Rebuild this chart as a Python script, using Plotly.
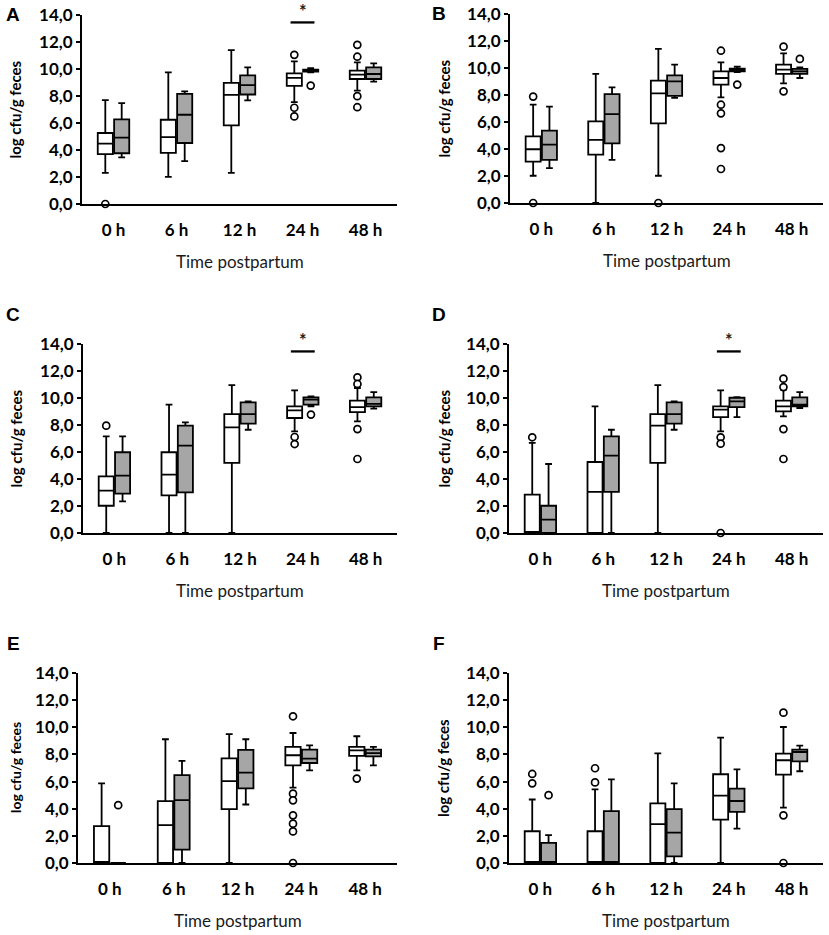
import plotly.graph_objects as go

W, H = 829, 935
GRAY = "#a6a6a6"
FONT = "Lato"

times = ["0 h", "6 h", "12 h", "24 h", "48 h"]

# box statistics per time point: (lower whisker, Q1, median, Q3, upper whisker)
a_white = [(2.31, 3.69, 4.47, 5.26, 7.70), (2.01, 3.78, 4.96, 6.24, 9.75), (2.31, 5.82, 8.08, 8.97, 11.40),
           (7.54, 8.75, 9.34, 9.68, 10.57), (8.40, 9.26, 9.58, 9.88, 10.49)]
a_gray = [(3.46, 3.76, 4.91, 6.27, 7.47), (3.17, 4.52, 6.61, 8.16, 8.35), (7.67, 8.11, 8.80, 9.53, 10.12),
          (9.75, 9.80, 9.88, 9.95, 10.07), (9.07, 9.26, 9.63, 10.12, 10.42)]
a_white_out = [[0.0], [], [], [11.05, 7.13, 6.49], [11.79, 10.91, 7.99, 7.17]]
a_gray_out = [[], [], [], [8.77], []]

b_white = [(2.02, 3.06, 3.98, 4.94, 7.28), (0.0, 3.58, 4.67, 6.05, 9.56), (2.02, 5.90, 8.12, 9.06, 11.41),
           (7.83, 8.77, 9.26, 9.75, 10.42), (8.86, 9.56, 9.88, 10.25, 11.09)]
b_gray = [(2.59, 3.19, 4.32, 5.36, 7.14), (3.19, 4.42, 6.59, 8.07, 8.57), (7.78, 7.93, 9.01, 9.46, 10.25),
          (9.70, 9.75, 9.88, 9.95, 10.10), (9.26, 9.56, 9.75, 9.93, 10.05)]
b_white_out = [[7.88, 0.0], [], [0.0], [11.28, 7.28, 6.64, 4.07, 2.52], [11.58, 8.27]]
b_gray_out = [[], [], [], [8.77], [10.67]]

c_white = [(0.0, 2.02, 3.14, 4.20, 7.16), (0.0, 2.79, 4.32, 5.98, 9.51), (0.0, 5.19, 7.83, 8.81, 10.96),
           (7.53, 8.52, 9.09, 9.38, 10.57), (8.27, 8.96, 9.33, 9.80, 10.74)]
c_gray = [(2.35, 2.91, 4.25, 5.98, 7.16), (0.0, 3.01, 6.47, 7.95, 8.20), (7.65, 8.10, 8.81, 9.68, 9.75),
          (9.38, 9.51, 9.88, 10.05, 10.12), (9.21, 9.38, 9.56, 10.05, 10.44)]
c_white_out = [[7.95], [], [], [7.11, 6.59], [11.53, 11.04, 7.70, 5.48]]
c_gray_out = [[], [], [], [8.77], []]

d_white = [(0.0, 0.0, 0.0, 2.84, 6.67), (0.0, 0.0, 3.04, 5.26, 9.38), (0.0, 5.19, 7.95, 8.81, 10.96),
           (7.53, 8.59, 9.14, 9.38, 10.57), (8.64, 9.01, 9.38, 9.80, 10.62)]
d_gray = [(0.0, 0.0, 0.99, 2.02, 5.11), (0.0, 3.04, 5.73, 7.16, 7.65), (7.65, 8.10, 8.81, 9.68, 9.75),
          (8.59, 9.33, 9.75, 10.02, 10.07), (9.26, 9.38, 9.51, 10.05, 10.44)]
d_white_out = [[7.09], [], [], [7.09, 6.62, 0.0], [11.43, 10.81, 7.70, 5.48]]
d_gray_out = [[], [], [], [], []]

e_white = [(0.0, 0.0, 0.0, 2.71, 5.87), (0.0, 0.0, 2.79, 4.56, 9.12), (0.0, 3.97, 6.04, 7.71, 9.49),
           (5.55, 7.20, 7.94, 8.55, 9.58), (6.83, 7.89, 8.30, 8.55, 9.34)]
e_gray = [(0.0, 0.0, 0.0, 0.0, 0.0), (0.0, 0.99, 4.63, 6.48, 7.52), (4.31, 5.50, 6.66, 8.33, 9.12),
          (6.83, 7.37, 7.69, 8.35, 8.67), (7.20, 7.86, 8.10, 8.35, 8.55)]
e_white_out = [[], [], [], [10.81, 5.11, 4.62, 3.51, 2.90, 2.33, 0.0], [6.22]]
e_gray_out = [[4.26], [], [], [], []]

f_white = [(0.0, 0.0, 0.0, 2.34, 4.68), (0.0, 0.0, 0.0, 2.34, 5.42), (0.0, 0.0, 2.86, 4.39, 8.08),
           (0.0, 3.19, 4.96, 6.54, 9.24), (4.08, 6.51, 7.57, 8.06, 10.02)]
f_gray = [(0.0, 0.0, 0.0, 1.48, 2.05), (0.0, 0.0, 0.0, 3.82, 6.16), (0.0, 0.49, 2.24, 3.97, 5.87),
          (2.53, 3.76, 4.57, 5.48, 6.90), (6.76, 7.49, 8.18, 8.35, 8.65)]
f_white_out = [[6.56, 5.87], [6.98, 5.94], [], [], [11.08, 3.51, 0.0]]
f_gray_out = [[5.00], [], [], [], []]

# time points marked as significant (*)
a_sig = ["24 h"]
c_sig = ["24 h"]
d_sig = ["24 h"]

panels = {
    "A": (a_white, a_gray, a_white_out, a_gray_out, a_sig),
    "B": (b_white, b_gray, b_white_out, b_gray_out, []),
    "C": (c_white, c_gray, c_white_out, c_gray_out, c_sig),
    "D": (d_white, d_gray, d_white_out, d_gray_out, d_sig),
    "E": (e_white, e_gray, e_white_out, e_gray_out, []),
    "F": (f_white, f_gray, f_white_out, f_gray_out, []),
}

# plot areas in pixels: left, right, top, bottom
frames = {
    "A": (82, 397, 15, 204),
    "B": (510, 823, 14, 203),
    "C": (83, 397, 344, 533),
    "D": (509, 823, 344, 533),
    "E": (78, 397, 673, 863),
    "F": (509, 823, 673, 863),
}

fig = go.Figure()
annotations = []
shapes = []
layout_axes = {}

for n, (letter, (white, gray, wout, gout, sig)) in enumerate(panels.items(), start=1):
    xa = "x" if n == 1 else f"x{n}"
    ya = "y" if n == 1 else f"y{n}"
    left, right, top, bottom = frames[letter]

    # boxes and outliers for both groups
    for stats, outs, off, fill in ((white, wout, -0.13, "white"), (gray, gout, 0.13, GRAY)):
        lo, q1, med, q3, hi = zip(*stats)
        fig.add_trace(go.Box(
            x=[i + off for i in range(len(times))],
            lowerfence=list(lo), q1=list(q1), median=list(med), q3=list(q3), upperfence=list(hi),
            orientation="v", width=0.24, whiskerwidth=0.45, boxpoints=False,
            fillcolor=fill, line=dict(color="black", width=1.8),
            xaxis=xa, yaxis=ya, showlegend=False, hoverinfo="skip",
        ))
        ox, oy = [], []
        for i, vals in enumerate(outs):
            ox += [i + off] * len(vals)
            oy += vals
        fig.add_trace(go.Scatter(
            x=ox, y=oy, mode="markers", cliponaxis=False,
            marker=dict(symbol="circle", size=7, color="white", line=dict(color="black", width=1.7)),
            xaxis=xa, yaxis=ya, showlegend=False, hoverinfo="skip",
        ))

    # significance bar and star
    for t in sig:
        i = times.index(t)
        shapes.append(dict(type="line", xref=xa, yref=ya, x0=i - 0.19, x1=i + 0.19, y0=13.45, y1=13.45,
                           line=dict(color="black", width=2.3)))
        annotations.append(dict(xref=xa, yref=ya, x=i, y=13.5, yshift=-2, text="<b>*</b>", showarrow=False,
                                yanchor="bottom", font=dict(family=FONT, size=18, color="#222222")))

    layout_axes[f"xaxis{'' if n == 1 else n}"] = dict(
        domain=[left / W, right / W], anchor=ya, range=[-0.5, 4.5], automargin=False,
        tickvals=list(range(len(times))), ticktext=times, ticks="", ticklabelstandoff=10,
        showline=True, linecolor="black", linewidth=2, showgrid=False, zeroline=False,
        tickfont=dict(family=FONT, size=17, color="black", weight="bold"),
    )
    layout_axes[f"yaxis{'' if n == 1 else n}"] = dict(
        domain=[1 - bottom / H, 1 - top / H], anchor=xa, range=[0, 14], dtick=2, tickformat=".1f",
        automargin=False, ticks="outside", ticklen=4, tickwidth=1.5, tickcolor="black",
        showline=True, linecolor="black", linewidth=2, showgrid=False, zeroline=False,
        tickfont=dict(family=FONT, size=17, color="black", weight="bold"),
    )

    # panel letter and axis titles
    lx = 13 if left < 300 else 439
    ly = top - 1 if letter in "AB" else top - 30
    annotations.append(dict(xref="paper", yref="paper", x=lx / W, y=1 - ly / H,
                            text=f"<b>{letter}</b>", showarrow=False, xanchor="center", yanchor="middle",
                            font=dict(family="Liberation Sans", size=19, color="black")))
    tx = 15 if left < 300 else 443
    annotations.append(dict(xref="paper", yref="paper", x=tx / W, y=1 - (top + bottom) / 2 / H,
                            text="<b>log cfu/g feces</b>", textangle=-90, showarrow=False,
                            xanchor="center", yanchor="middle",
                            font=dict(family=FONT, size=14 if letter == "E" else 15, color="black")))
    annotations.append(dict(xref="paper", yref="paper", x=(left + right) / 2 / W, y=1 - (bottom + 57) / H,
                            text="Time postpartum", showarrow=False, xanchor="center", yanchor="middle",
                            font=dict(family=FONT, size=17, color="#1a1a1a")))

fig.update_layout(
    width=W, height=H,
    margin=dict(l=0, r=0, t=0, b=0, autoexpand=False),
    paper_bgcolor="white", plot_bgcolor="white",
    separators=",.",
    annotations=annotations, shapes=shapes,
    **layout_axes,
)

fig.write_html(
    "out.html",
    config={"displayModeBar": False},
    post_script=(
        "document.documentElement.style.overflow='hidden';"
        "document.body.style.margin='0px';document.body.style.overflow='hidden';"
    ),
)
